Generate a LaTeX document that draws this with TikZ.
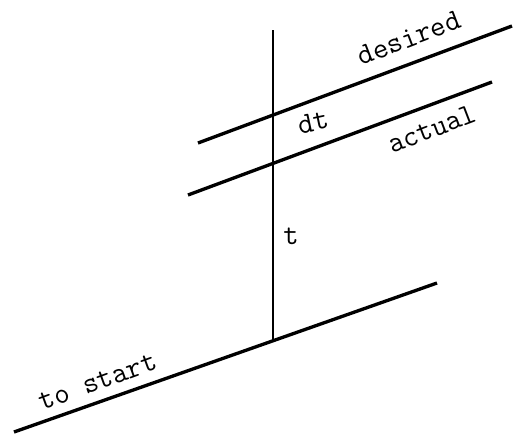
\documentclass[tikz,border=0pt]{standalone}
\usetikzlibrary{positioning}

\begin{document}
\begin{tikzpicture}[x=0.02cm, y=-0.02cm, line width=1.9pt,
    lbl/.style={font=\ttfamily\fontsize{17}{19}\selectfont, inner sep=0pt}]
  \useasboundingbox (0,0) rectangle (516,436);
  % the time axis
  \coordinate (top) at (273,30);
  \coordinate (foot) at (273,341);
  \draw[line width=1.5pt] (top) -- (foot);
  % the three slanted lines
  \coordinate (s1) at (14,432);
  \coordinate (s2) at (437,283);
  \coordinate (d1) at (198,143);
  \coordinate (d2) at (512,26);
  \coordinate (a1) at (188,195);
  \coordinate (a2) at (492,82);
  \draw (s1) -- (s2);
  \draw (d1) -- (d2);
  \draw (a1) -- (a2);
  % labels
  \node[lbl, rotate=21] (desired) at (409,38) {desired};
  \node[lbl, rotate=21] (actual) at (432,129) {actual};
  \node[lbl, rotate=12] (dt) at (313,122) {dt};
  \node[lbl] (t) at (291,236) {t};
  \node[lbl, rotate=20] (tostart) at (98,382) {to start};
\end{tikzpicture}
\end{document}
